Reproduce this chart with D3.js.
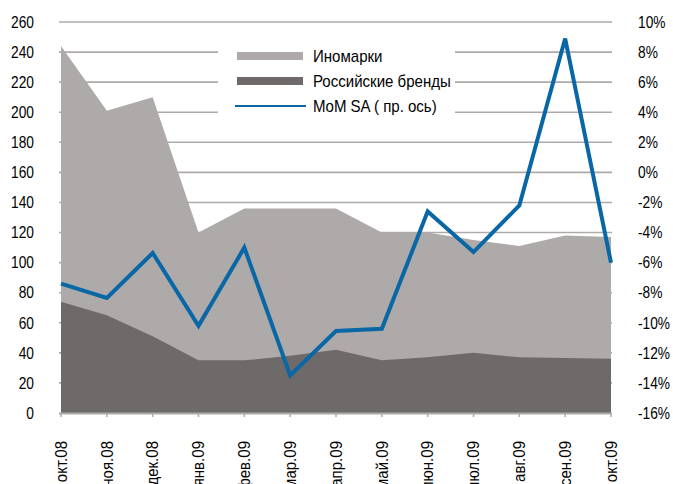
<!DOCTYPE html>
<html><head><meta charset="utf-8">
<script src="https://cdn.jsdelivr.net/npm/d3@7"></script>
<style>
body{margin:0;background:#fff;}
text{font-family:"Liberation Sans",Arial,Helvetica,sans-serif;fill:#000;}
</style></head>
<body><svg id="c" width="673" height="484"></svg>
<script>
const categories = ["окт.08","ноя.08","дек.08","янв.09","фев.09","мар.09","апр.09","май.09","июн.09","июл.09","авг.09","сен.09","окт.09"];
const russian = [74, 65, 51, 35, 35, 38, 42, 35, 37, 40, 37, 36.5, 36];
const foreign = [170, 136, 159, 85, 101, 98, 94, 85, 83, 75, 74, 81.5, 81];
const mom = [-7.4, -8.35, -5.36, -10.2, -5.0, -13.5, -10.55, -10.4, -2.6, -5.3, -2.2, 8.9, -6.0];
const leftTicks = [0,20,40,60,80,100,120,140,160,180,200,220,240,260];
const rightTicks = [10,8,6,4,2,0,-2,-4,-6,-8,-10,-12,-14,-16];
const legendLabels = ["Иномарки","Российские бренды","MoM SA ( пр. ось)"];

const svg = d3.select("#c");
const x = d3.scalePoint().domain(categories).range([61, 611]);
const yL = d3.scaleLinear().domain([0,260]).range([413,22]);
const yR = d3.scaleLinear().domain([-16,10]).range([413,22]);
const fs = 16;
const sxNum = 0.86, sxTxt = 0.94;
const gridCol = "#aeaaa9";

svg.append("g").selectAll("line").data(leftTicks.filter(d=>d>0)).join("line")
  .attr("x1",59).attr("x2",612).attr("y1",d=>yL(d)).attr("y2",d=>yL(d))
  .attr("stroke",gridCol).attr("stroke-width",1.6);

const data = categories.map((c,i)=>({c, r:russian[i], f:foreign[i]}));
svg.append("path").datum(data)
  .attr("d", d3.area().x(d=>x(d.c)).y0(d=>yL(0)).y1(d=>yL(d.r+d.f)))
  .attr("fill","#aeaaa9");
svg.append("path").datum(data)
  .attr("d", d3.area().x(d=>x(d.c)).y0(d=>yL(0)).y1(d=>yL(d.r)))
  .attr("fill","#6f6a6a");

svg.append("line").attr("x1",59).attr("x2",612).attr("y1",yL(0)+0.5).attr("y2",yL(0)+0.5)
  .attr("stroke",gridCol).attr("stroke-width",2);
svg.append("g").selectAll("line").data(categories).join("line")
  .attr("x1",d=>x(d)).attr("x2",d=>x(d)).attr("y1",yL(0)).attr("y2",yL(0)+4)
  .attr("stroke",gridCol).attr("stroke-width",1.5);

svg.append("path").datum(mom)
  .attr("d", d3.line().x((d,i)=>x(categories[i])).y(d=>yR(d)))
  .attr("fill","none").attr("stroke","#0a67a6").attr("stroke-width",4).attr("stroke-linejoin","miter");

svg.append("g").selectAll("text").data(leftTicks).join("text")
  .attr("transform",d=>`translate(34,${yL(d)}) scale(${sxNum},1)`)
  .attr("dy","0.36em").attr("text-anchor","end").attr("font-size",fs).text(d=>d);
svg.append("g").selectAll("text").data(rightTicks).join("text")
  .attr("transform",d=>`translate(638,${yR(d)}) scale(${sxNum},1)`)
  .attr("dy","0.36em").attr("text-anchor","start").attr("font-size",fs).text(d=>d+"%");
svg.append("g").selectAll("text").data(categories).join("text")
  .attr("transform",d=>`translate(${x(d)},441) rotate(-90) scale(${sxTxt},1)`)
  .attr("dy","0.36em").attr("text-anchor","end").attr("font-size",fs).text(d=>d);

const lg = svg.append("g");
lg.append("rect").attr("x",218).attr("y",40).attr("width",237).attr("height",82).attr("fill","#fff");
const rows = [56, 81, 106];
lg.append("rect").attr("x",237).attr("y",rows[0]-4).attr("width",66).attr("height",8).attr("fill","#aeaaa9");
lg.append("rect").attr("x",237).attr("y",rows[1]-4).attr("width",66).attr("height",8).attr("fill","#6f6a6a");
lg.append("line").attr("x1",235).attr("x2",306).attr("y1",rows[2]).attr("y2",rows[2]).attr("stroke","#0a67a6").attr("stroke-width",2);
lg.selectAll("text").data(legendLabels).join("text")
  .attr("transform",(d,i)=>`translate(313,${rows[i]}) scale(${sxTxt},1)`)
  .attr("dy","0.36em").attr("font-size",fs).text(d=>d);
</script></body></html>
